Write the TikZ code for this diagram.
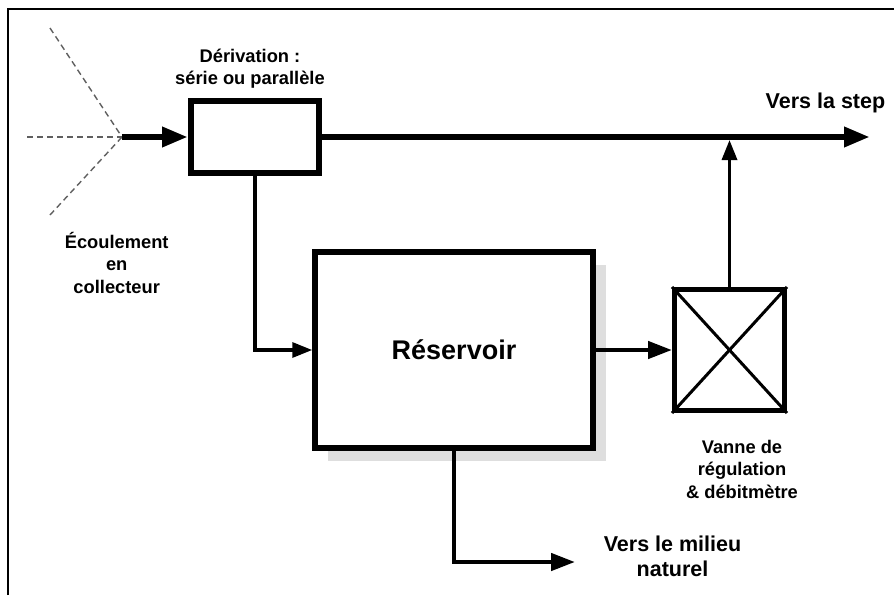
\documentclass[tikz,border=0pt]{standalone}
\usepackage{fontspec}
\setmainfont{Liberation Sans}
\usetikzlibrary{arrows.meta, positioning, shadows}
\definecolor{shadowgrey}{RGB}{222,222,222}
\definecolor{dashgrey}{RGB}{95,95,95}

\begin{document}
\begin{tikzpicture}[
    x=1pt, y=-1pt,
    box/.style={rectangle, draw=black, fill=white, line width=6pt, inner sep=0pt},
    tank/.style={box, line width=5.5pt, minimum width=278pt, minimum height=196pt, font=\bfseries\fontsize{27}{32}\selectfont, drop shadow={fill=shadowgrey, opacity=1, shadow xshift=13pt, shadow yshift=-13pt}},
    valve/.style={box, line width=5pt, minimum width=110pt, minimum height=121pt},
    note/.style={align=center, inner sep=0pt, font=\bfseries\fontsize{18.3}{22.5}\selectfont},
    bignote/.style={note, font=\bfseries\fontsize{21.5}{25}\selectfont},
    mainflow/.style={-{Triangle[length=26pt,width=19pt]}, line width=6.5pt},
    midflow/.style={-{Triangle[length=24pt,width=17pt]}, line width=4.5pt},
    thinflow/.style={-{Triangle[length=20pt,width=15pt]}, line width=3.3pt},
    inlet/.style={dashed, dash pattern=on 6pt off 4pt, line width=1.4pt, draw=dashgrey}
]
    \useasboundingbox (0,0) rectangle (894,595);
    \draw[line width=2pt] (8,595) -- (8,9) -- (894,9);

    % collector inlet
    \coordinate (src) at (122,137);
    \coordinate (in1) at (50,28);
    \coordinate (in2) at (27,137);
    \coordinate (in3) at (50,215);
    \draw[inlet] (in1) -- (src);
    \draw[inlet] (in2) -- (src);
    \draw[inlet] (in3) -- (src);

    \node[box, minimum width=128pt, minimum height=72pt] (deriv) at (255,137) {};
    \node[tank] (res) at (454,350) {Réservoir};
    \node[valve] (vanne) at (729.5,350) {};
    \draw[line width=3pt] (vanne.north west) -- (vanne.south east);
    \draw[line width=3pt] (vanne.south west) -- (vanne.north east);
    \coordinate (step) at (870,137);
    \coordinate (milieu) at (575,562);

    \node[note] (derivtxt) at (250,68.5) {Dérivation :\\série ou parallèle};
    \node[note] (ecoultxt) at (116.7,262.5) {Écoulement\\en\\collecteur};
    \node[note] (vannetxt) at (742,469) {Vanne de\\régulation\\\& débitmètre};
    \node[bignote] (milieutxt) at (672.5,556.5) {Vers le milieu\\naturel};
    \node[bignote, anchor=base] (steptxt) at (825.5,108) {Vers la step};

    \draw[mainflow] (src) -- (deriv);
    \draw[mainflow] (deriv) -- (step);
    \draw[thinflow] (deriv.south) |- (res.west);
    \draw[thinflow, shorten >=3pt] (vanne.north) -- (vanne.north |- deriv.east);
    \draw[midflow] (res.east) -- (vanne.west);
    \draw[midflow] (res.south) |- (milieu);
\end{tikzpicture}
\end{document}
